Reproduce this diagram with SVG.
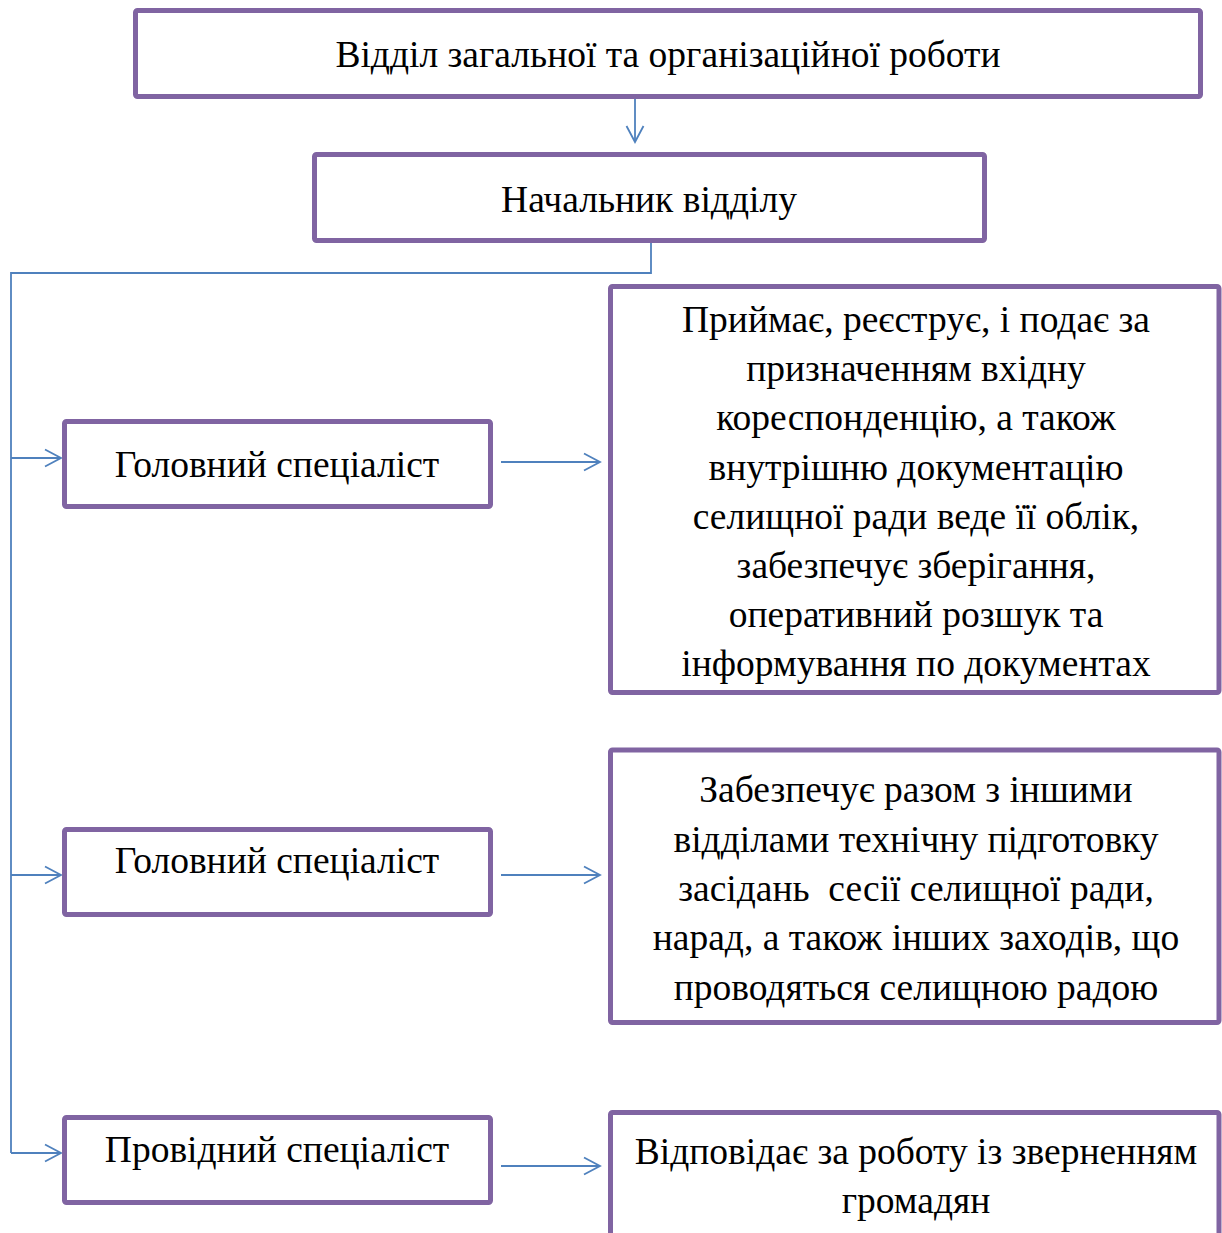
<svg xmlns="http://www.w3.org/2000/svg" width="1222" height="1233" viewBox="0 0 1222 1233">
<defs>
<style>
.box{fill:#ffffff;stroke:#8064A2;stroke-width:5}
.t{font-family:"Liberation Serif","Times New Roman",serif;font-size:37.5px;fill:#000;text-anchor:middle;white-space:pre}
.c{fill:none;stroke:#4F81BD;stroke-width:1.8}
</style>
<marker id="ah" markerWidth="20" markerHeight="20" refX="17" refY="10" orient="auto" markerUnits="userSpaceOnUse">
<path d="M1,1.5 L17,10 L1,18.5" fill="none" stroke="#4F81BD" stroke-width="1.8"/>
</marker>
</defs>
<g id="connectors">
<path class="c" d="M635,99 L635,142" marker-end="url(#ah)"/>
<path class="c" d="M651,243 L651,273 L11,273 L11,1153"/>
<path class="c" d="M11,458 L61,458" marker-end="url(#ah)"/>
<path class="c" d="M11,875 L61,875" marker-end="url(#ah)"/>
<path class="c" d="M11,1153 L61,1153" marker-end="url(#ah)"/>
<path class="c" d="M501,462 L600,462" marker-end="url(#ah)"/>
<path class="c" d="M501,875 L600,875" marker-end="url(#ah)"/>
<path class="c" d="M501,1166 L600,1166" marker-end="url(#ah)"/>
</g>
<g id="dept">
<rect class="box" x="135.5" y="10.5" width="1065" height="86" rx="2"/>
<text class="t" x="668" y="67">Відділ загальної та організаційної роботи</text>
</g>
<g id="head">
<rect class="box" x="314.5" y="154.5" width="670" height="86" rx="2"/>
<text class="t" x="649" y="212">Начальник відділу</text>
</g>
<g id="spec1">
<rect class="box" x="64.5" y="421.5" width="426" height="85" rx="2"/>
<text class="t" x="277" y="477">Головний спеціаліст</text>
</g>
<g id="spec2">
<rect class="box" x="64.5" y="829.5" width="426" height="85" rx="2"/>
<text class="t" x="277" y="873">Головний спеціаліст</text>
</g>
<g id="spec3">
<rect class="box" x="64.5" y="1117.5" width="426" height="85" rx="2"/>
<text class="t" x="277" y="1162">Провідний спеціаліст</text>
</g>
<g id="duty1">
<rect class="box" x="610.5" y="286.5" width="608.5" height="406" rx="2"/>
<text class="t" x="916" y="332">Приймає, реєструє, і подає за</text>
<text class="t" x="916" y="381">призначенням вхідну</text>
<text class="t" x="916" y="430">кореспонденцію, а також</text>
<text class="t" x="916" y="480">внутрішню документацію</text>
<text class="t" x="916" y="529">селищної ради веде її облік,</text>
<text class="t" x="916" y="578">забезпечує зберігання,</text>
<text class="t" x="916" y="627">оперативний розшук та</text>
<text class="t" x="916" y="676">інформування по документах</text>
</g>
<g id="duty2">
<rect class="box" x="610.5" y="750" width="608.5" height="272.5" rx="2"/>
<text class="t" x="916" y="802">Забезпечує разом з іншими</text>
<text class="t" x="916" y="852">відділами технічну підготовку</text>
<text class="t" x="916" y="901">засідань  сесії селищної ради,</text>
<text class="t" x="916" y="950">нарад, а також інших заходів, що</text>
<text class="t" x="916" y="1000">проводяться селищною радою</text>
</g>
<g id="duty3">
<rect class="box" x="610.5" y="1112.5" width="608.5" height="200" rx="2"/>
<text class="t" x="916" y="1164">Відповідає за роботу із зверненням</text>
<text class="t" x="916" y="1213">громадян</text>
</g>
</svg>
